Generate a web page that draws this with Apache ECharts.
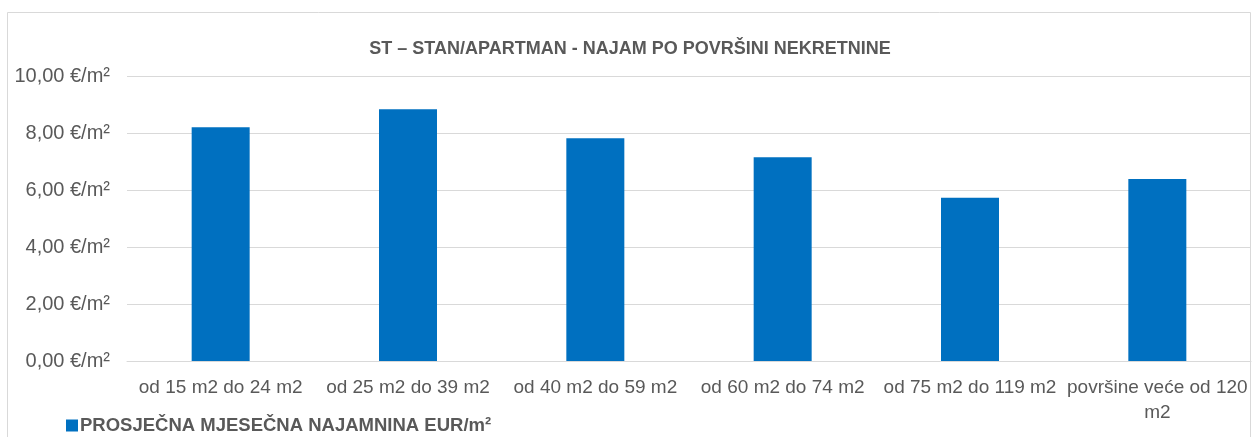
<!DOCTYPE html>
<html>
<head>
  <meta charset="utf-8">
  <title>ST najam po povrsini</title>
  <script src="https://cdn.jsdelivr.net/npm/echarts@6/dist/echarts.min.js"></script>
  <style>
    html, body { margin: 0; padding: 0; background: #fff; }
    #chart-container { width: 1260px; height: 437px; }
  </style>
</head>
<body>
<div id="chart-container"></div>
<script>
  // podaci
  var categories = ['od 15 m2 do 24 m2', 'od 25 m2 do 39 m2', 'od 40 m2 do 59 m2',
    'od 60 m2 do 74 m2', 'od 75 m2 do 119 m2', 'površine veće od 120\nm2'];
  var najamnina = [8.20, 8.83, 7.82, 7.15, 5.73, 6.39];
  var seriesName = 'PROSJEČNA MJESEČNA NAJAMNINA EUR/m²';
  var titleText = 'ST – STAN/APARTMAN - NAJAM PO POVRŠINI NEKRETNINE';

  var font = 'Liberation Sans, Arial, sans-serif';
  var myChart = echarts.init(document.getElementById('chart-container'));

  myChart.setOption({
    animation: false,
    backgroundColor: '#fff',
    title: {
      text: titleText,
      left: 'center',
      top: 35,
      textStyle: { color: '#595959', fontSize: 18, fontWeight: 'bold', fontFamily: font }
    },
    legend: {
      left: 61,
      top: 411,
      itemWidth: 12,
      itemHeight: 12,
      itemGap: 4,
      icon: 'rect',
      textStyle: { color: '#595959', fontSize: 18.5, fontWeight: 'bold', fontFamily: font, padding: [0, 0, 0, -3] }
    },
    grid: { left: 127, right: 9, top: 76, bottom: 76 },
    xAxis: {
      type: 'category',
      data: categories,
      axisLine: { lineStyle: { color: '#d9d9d9' } },
      axisTick: { show: false },
      axisLabel: { color: '#595959', fontSize: 19, fontFamily: font, margin: 14, interval: 0, lineHeight: 25 }
    },
    yAxis: {
      type: 'value',
      min: 0,
      max: 10,
      interval: 2,
      axisLine: { show: false },
      axisTick: { show: false },
      splitLine: { lineStyle: { color: '#d9d9d9' } },
      axisLabel: {
        color: '#595959', fontSize: 20, fontFamily: font, margin: 17,
        formatter: function (v) { return v.toFixed(2).replace('.', ',') + ' €/m²'; }
      }
    },
    series: [{
      name: seriesName,
      type: 'bar',
      data: najamnina,
      barWidth: 58,
      itemStyle: { color: '#0070c0' }
    }]
  });

  // okvir grafikona
  myChart.setOption({
    graphic: [{
      type: 'rect',
      shape: { x: 7.5, y: 12.5, width: 1243, height: 430 },
      style: { fill: 'none', stroke: '#d9d9d9', lineWidth: 1 },
      silent: true
    }]
  });
</script>
</body>
</html>
